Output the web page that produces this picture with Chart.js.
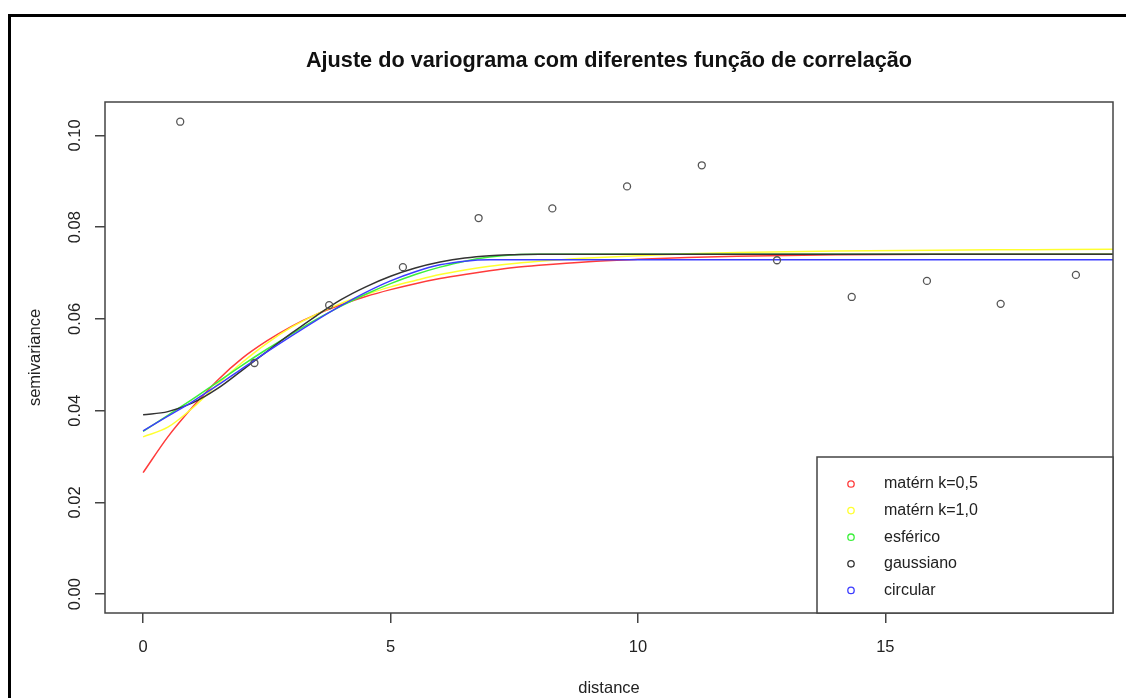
<!DOCTYPE html>
<html>
<head>
<meta charset="utf-8">
<script src="https://cdn.jsdelivr.net/npm/chart.js@4.4.0/dist/chart.umd.min.js"></script>
<style>
html,body{margin:0;padding:0;background:#fff;}
canvas{display:block;}
</style>
</head>
<body>
<canvas id="c" width="1126" height="698"></canvas>
<script>
// ---- data ----
const curveX    = [0, 0.5, 1, 1.5, 2, 2.5, 3, 3.5, 4, 4.5, 5, 5.5, 6, 6.5, 7, 7.5, 8, 9, 10, 11, 12, 14, 16, 18, 19.6];
const matern05  = [0.0265,0.0343,0.0408,0.0466,0.0514,0.0552,0.0584,0.0610,0.0631,0.0649,0.0664,0.0677,0.0688,0.0697,0.0705,0.0712,0.0717,0.0725,0.0730,0.0734,0.0737,0.0740,0.0741,0.0741,0.0741];
const matern10  = [0.0343,0.0364,0.0406,0.0457,0.0505,0.0547,0.0582,0.0610,0.0634,0.0653,0.0670,0.0684,0.0697,0.0707,0.0715,0.0721,0.0726,0.0733,0.0738,0.0742,0.0745,0.0748,0.0750,0.0751,0.0752];
const esferico  = [0.0355,0.0390,0.0425,0.0462,0.0499,0.0534,0.0567,0.0599,0.0628,0.0654,0.0677,0.0697,0.0713,0.0726,0.0735,0.0740,0.0741,0.0741,0.0741,0.0741,0.0741,0.0741,0.0741,0.0741,0.0741];
const gaussiano = [0.0391,0.0398,0.0417,0.0448,0.0488,0.0529,0.0569,0.0607,0.0642,0.0670,0.0693,0.0711,0.0724,0.0733,0.0738,0.0740,0.0741,0.0741,0.0741,0.0741,0.0741,0.0741,0.0741,0.0741,0.0741];
const circular  = [0.0356,0.0388,0.0420,0.0455,0.0492,0.0528,0.0563,0.0597,0.0629,0.0658,0.0683,0.0703,0.0718,0.0726,0.0729,0.0729,0.0729,0.0729,0.0729,0.0729,0.0729,0.0729,0.0729,0.0729,0.0729];
const lagX      = [0.75, 2.25, 3.76, 5.25, 6.78, 8.27, 9.78, 11.29, 12.81, 14.32, 15.84, 17.33, 18.85];
const semivar   = [0.1030, 0.0504, 0.0630, 0.0713, 0.0820, 0.0841, 0.0889, 0.0935, 0.0728, 0.0648, 0.0683, 0.0633, 0.0696];
const xTicks    = [0, 5, 10, 15];
const yTicks    = [0, 0.02, 0.04, 0.06, 0.08, 0.10];
const seriesNames = ['matérn k=0,5', 'matérn k=1,0', 'esférico', 'gaussiano', 'circular'];
const titleText = 'Ajuste do variograma com diferentes função de correlação';

const seriesColors = ['#ff3b3b', '#ffff30', '#3cf03c', '#333333', '#3c3cff'];
const seriesData = [matern05, matern10, esferico, gaussiano, circular];
const FONT = 'Liberation Sans, Arial, sans-serif';

const toXY = (xs, ys) => xs.map((x, i) => ({x: x, y: ys[i]}));

const datasets = seriesData.map((ys, i) => ({
  label: seriesNames[i],
  data: toXY(curveX, ys),
  borderColor: seriesColors[i],
  borderWidth: 1.5,
  pointRadius: 0,
  fill: false,
  cubicInterpolationMode: 'monotone',
  order: 5 - i
}));
datasets.push({
  label: 'pontos',
  data: toXY(lagX, semivar),
  showLine: false,
  pointRadius: 3.5,
  pointBorderWidth: 1.3,
  pointBorderColor: '#555',
  pointBackgroundColor: 'rgba(0,0,0,0)',
  order: 0
});

const decor = {
  id: 'decor',
  afterDraw(chart) {
    const ctx = chart.ctx;
    const a = chart.chartArea;
    ctx.save();
    // outer frame
    ctx.strokeStyle = '#000';
    ctx.lineWidth = 3;
    ctx.beginPath();
    ctx.moveTo(9.5, 700);
    ctx.lineTo(9.5, 15.5);
    ctx.lineTo(1130, 15.5);
    ctx.stroke();
    // plot box
    ctx.strokeStyle = '#444';
    ctx.lineWidth = 1.5;
    ctx.strokeRect(a.left, a.top, a.right - a.left, a.bottom - a.top);
    // title
    ctx.fillStyle = '#111';
    ctx.font = 'bold 21.7px ' + FONT;
    ctx.textAlign = 'center';
    ctx.textBaseline = 'middle';
    ctx.fillText(titleText, (a.left + a.right) / 2, 61.5);
    // legend
    const lx = 817, ly = 457, lr = a.right, lb = a.bottom;
    ctx.fillStyle = '#fff';
    ctx.fillRect(lx, ly, lr - lx, lb - ly);
    ctx.strokeStyle = '#444';
    ctx.lineWidth = 1.5;
    ctx.strokeRect(lx, ly, lr - lx, lb - ly);
    ctx.font = '16px ' + FONT;
    ctx.textAlign = 'left';
    seriesNames.forEach((name, i) => {
      const y = 484 + i * 26.6;
      ctx.beginPath();
      ctx.arc(851, y, 3.2, 0, Math.PI * 2);
      ctx.strokeStyle = seriesColors[i];
      ctx.lineWidth = 1.3;
      ctx.stroke();
      ctx.fillStyle = '#222';
      ctx.fillText(name, 884, y);
    });
    ctx.restore();
  }
};

new Chart(document.getElementById('c'), {
  type: 'line',
  data: {datasets: datasets},
  plugins: [decor],
  options: {
    responsive: false,
    animation: false,
    layout: {padding: {top: 102, right: 13, left: 0, bottom: 0}},
    plugins: {legend: {display: false}, tooltip: {enabled: false}, title: {display: false}},
    scales: {
      x: {
        type: 'linear',
        min: -0.77, max: 19.6,
        afterBuildTicks: s => { s.ticks = xTicks.map(v => ({value: v})); },
        afterFit: s => { s.height = 85; },
        grid: {display: true, drawOnChartArea: false, drawTicks: true, tickLength: 10, color: '#444', lineWidth: 1.5},
        border: {display: false},
        ticks: {color: '#222', font: {family: FONT, size: 16.5}, padding: 15, maxRotation: 0, autoSkip: false, callback: v => String(v)},
        title: {display: true, text: 'distance', color: '#222', font: {family: FONT, size: 16.5}, padding: {top: 0, bottom: 0}}
      },
      y: {
        type: 'linear',
        min: -0.0041, max: 0.1073,
        afterBuildTicks: s => { s.ticks = yTicks.map(v => ({value: v})); },
        afterFit: s => { s.width = 105; },
        grid: {display: true, drawOnChartArea: false, drawTicks: true, tickLength: 10, color: '#444', lineWidth: 1.5},
        border: {display: false},
        ticks: {color: '#222', font: {family: FONT, size: 16.5}, padding: 3, minRotation: 90, maxRotation: 90, crossAlign: 'center', autoSkip: false, callback: v => v.toFixed(2)},
        title: {display: true, text: 'semivariance', color: '#222', font: {family: FONT, size: 16.5}, padding: {top: 26, bottom: 0}}
      }
    }
  }
});
</script>
</body>
</html>
